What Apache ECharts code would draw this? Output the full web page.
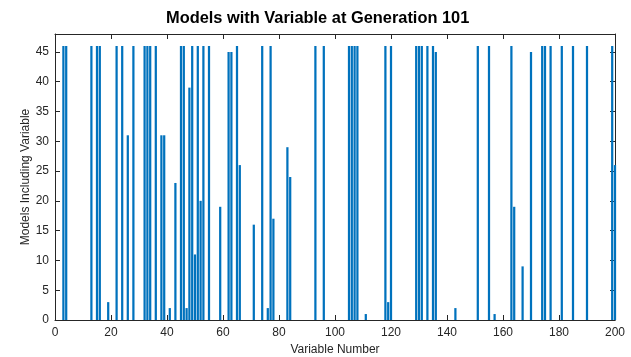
<!DOCTYPE html>
<html>
<head>
<meta charset="utf-8">
<script src="https://cdn.jsdelivr.net/npm/echarts@6/dist/echarts.min.js"></script>
<style>
html,body{margin:0;padding:0;background:#fff;}
#chart{width:631px;height:357px;}
</style>
</head>
<body>
<div id="chart"></div>
<script>
const titleText = 'Models with Variable at Generation 101';
const xAxisName = 'Variable Number';
const yAxisName = 'Models Including Variable';
const variableNumbers = [3,4,13,15,16,19,22,24,26,28,32,33,34,36,38,39,41,43,45,46,47,48,49,50,51,52,53,55,59,62,63,65,66,71,74,76,77,78,83,84,93,96,105,106,107,108,111,118,119,120,129,130,131,133,135,136,143,151,155,157,163,164,167,170,174,175,177,181,185,190,199,200];
const modelCounts = [46,46,46,46,46,3,46,46,31,46,46,46,46,46,31,31,2,23,46,46,2,39,46,11,46,20,46,46,19,45,45,46,26,16,46,2,46,17,29,24,46,46,46,46,46,46,1,46,3,46,46,46,46,46,46,45,2,46,46,1,46,19,9,45,46,46,46,46,46,46,46,26];
const xMin = 0, xMax = 200, xStep = 20;
const yMin = 0, yMax = 48, yStep = 5;

const data = variableNumbers.map((v, i) => [v, modelCounts[i]]);
const axisColor = '#262626';
const fontFam = '"Liberation Sans", Arial, Helvetica, sans-serif';

const chart = echarts.init(document.getElementById('chart'), null, {renderer: 'canvas'});
chart.setOption({
  animation: false,
  title: {
    text: titleText,
    left: 161, top: 5,
    textStyle: {fontFamily: fontFam, fontSize: 16.4, fontWeight: 'bold', color: '#000'}
  },
  grid: {left: 55, right: 16, top: 34, bottom: 37, containLabel: false, outerBoundsMode: 'none'},
  xAxis: [{
    type: 'value', min: xMin, max: xMax, interval: xStep,
    name: xAxisName, nameLocation: 'middle', nameGap: 24, nameMoveOverlap: false,
    nameTextStyle: {fontFamily: fontFam, fontSize: 12, color: '#262626'},
    axisLine: {show: true, onZero: false, lineStyle: {color: axisColor, width: 1}},
    axisTick: {show: true, inside: true, length: 5, lineStyle: {color: axisColor}},
    axisLabel: {fontFamily: fontFam, fontSize: 12, color: '#262626', margin: 7},
    splitLine: {show: false}
  }, {
    type: 'value', min: xMin, max: xMax, interval: xStep, position: 'top',
    axisLine: {show: true, onZero: false, lineStyle: {color: axisColor, width: 1}},
    axisTick: {show: true, inside: true, length: 5, lineStyle: {color: axisColor}},
    axisLabel: {show: false}, splitLine: {show: false}
  }],
  yAxis: [{
    type: 'value', min: yMin, max: yMax, interval: yStep,
    name: yAxisName, nameLocation: 'middle', nameGap: 23, nameMoveOverlap: false,
    nameTextStyle: {fontFamily: fontFam, fontSize: 12, color: '#262626'},
    axisLine: {show: true, onZero: false, lineStyle: {color: axisColor, width: 1}},
    axisTick: {show: true, inside: true, length: 5, lineStyle: {color: axisColor}},
    axisLabel: {fontFamily: fontFam, fontSize: 12, color: '#262626', margin: 6, showMaxLabel: false},
    splitLine: {show: false}
  }, {
    type: 'value', min: yMin, max: yMax, interval: yStep, position: 'right',
    axisLine: {show: true, onZero: false, lineStyle: {color: axisColor, width: 1}},
    axisTick: {show: true, inside: true, length: 5, lineStyle: {color: axisColor}},
    axisLabel: {show: false}, splitLine: {show: false}
  }],
  series: [{
    type: 'bar',
    xAxisIndex: 0, yAxisIndex: 0,
    data: data,
    barWidth: 2.24,
    itemStyle: {color: '#0072BD'},
    clip: true
  }]
});
</script>
</body>
</html>
